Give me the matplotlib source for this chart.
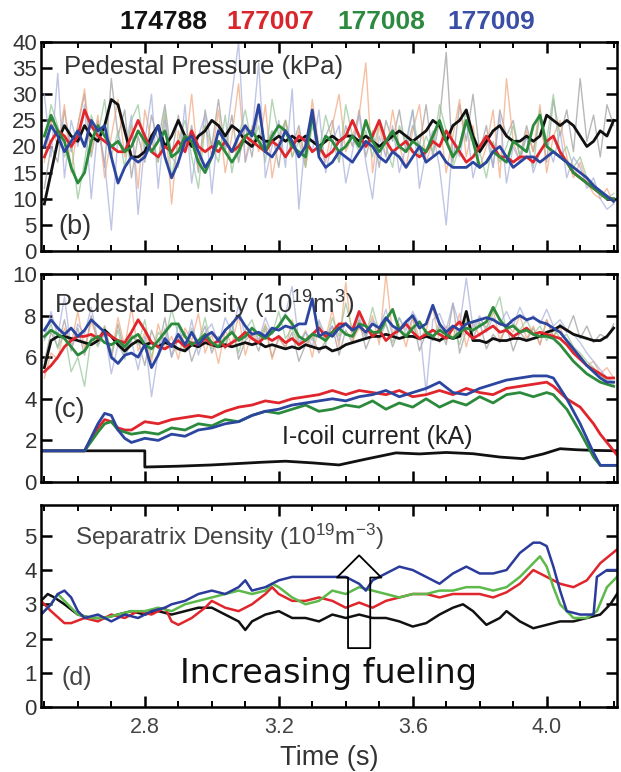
import numpy as np
import matplotlib
matplotlib.use('Agg')
import matplotlib.pyplot as plt
from matplotlib.ticker import MultipleLocator

plt.rcParams['font.family'] = ['Liberation Sans', 'DejaVu Sans']
plt.rcParams['mathtext.default'] = 'regular'

# ---- shots / colours ----
shots = ['174788', '177007', '177008', '177009']
cols = ['#111111', '#e0262c', '#2b8a3c', '#2c46a0']
raw_cols = ['#9a9a9a', '#f2a57c', '#93c493', '#a6addb']

# ---- (b) pedestal pressure, kPa, sampled every 0.02 s from 2.50 to 4.20 ----
pp_174788 = [9, 15, 21, 24, 22, 21, 24, 22, 21, 24,
             29, 28, 23, 18, 18, 19, 22, 24, 20, 22,
             25, 22, 20, 22, 23, 25, 24, 22, 24, 23,
             21, 20, 22, 21, 21, 22, 21, 22, 21, 22,
             21, 20, 21, 22, 21, 22, 22, 21, 22, 21,
             20, 21, 22, 23, 22, 21, 22, 23, 25, 24,
             21, 24, 25, 27, 22, 19, 21, 23, 24, 22,
             21, 21, 22, 21, 22, 26, 25, 24, 25, 24,
             22, 20, 21, 23, 22, 25]
pp_177007 = [18, 21, 23, 22, 20, 22, 27, 24, 22, 21,
             20, 19, 19, 22, 25, 22, 19, 18, 20, 19,
             21, 19, 23, 20, 19, 20, 19, 21, 19, 20,
             22, 21, 20, 19, 21, 20, 18, 20, 22, 21,
             19, 20, 18, 19, 21, 22, 25, 22, 20, 22,
             25, 21, 19, 20, 21, 19, 18, 19, 21, 20,
             23, 21, 19, 17, 18, 20, 22, 20, 18, 18,
             17, 18, 18, 17, 19, 21, 22, 19, 17, 15,
             14, 13, 12, 11, 10, 10]
pp_177008 = [22, 26, 23, 21, 16, 13, 15, 21, 24, 22,
             20, 21, 19, 20, 23, 21, 19, 21, 23, 18,
             19, 22, 21, 17, 15, 18, 21, 19, 17, 19,
             22, 23, 21, 19, 22, 24, 23, 20, 19, 18,
             26, 19, 22, 21, 19, 20, 22, 20, 25, 21,
             19, 21, 23, 20, 19, 21, 20, 19, 22, 25,
             21, 18, 20, 25, 21, 16, 17, 19, 18, 17,
             21, 20, 19, 24, 26, 20, 19, 18, 17, 15,
             14, 13, 12, 11, 10, 10]
pp_177009 = [20, 24, 22, 19, 21, 23, 20, 25, 23, 24,
             18, 13, 16, 18, 17, 18, 21, 24, 18, 14,
             17, 21, 22, 19, 16, 18, 23, 21, 19, 22,
             24, 22, 28, 19, 18, 20, 23, 21, 18, 20,
             27, 18, 16, 17, 19, 18, 17, 19, 21, 20,
             18, 17, 19, 18, 16, 18, 20, 17, 18, 19,
             17, 16, 16, 16, 17, 16, 17, 19, 20, 18,
             16, 17, 18, 18, 17, 18, 19, 18, 17, 16,
             15, 14, 12.5, 11.5, 10.5, 9.5]

pp_raw_174788 = [12, 20, 17, 27, 19, 24, 30, 18, 25, 16, 33, 22, 27, 14, 22, 17, 26, 21,
                 28, 18, 26, 19, 24, 15, 27, 20, 29, 19, 26, 17, 24, 18, 27, 20, 23, 16,
                 25, 20, 24, 17, 26, 18, 22, 25, 17, 24, 20, 27, 18, 23, 16, 25, 21, 27,
                 19, 24, 20, 28, 18, 25, 38, 17, 28, 21, 30, 19, 24, 16, 27, 22, 25, 18,
                 24, 19, 26, 17, 29, 22, 27, 19, 33, 21, 26, 18, 28, 24]
pp_raw_177007 = [17, 25, 20, 28, 15, 24, 31, 19, 26, 14, 22, 29, 18, 24, 12, 27, 21, 17,
                 26, 9, 23, 19, 30, 16, 24, 18, 27, 15, 22, 32, 17, 24, 19, 28, 14, 21,
                 25, 18, 23, 16, 29, 20, 17, 24, 30, 19, 22, 26, 36, 15, 24, 18, 27, 20,
                 16, 23, 28, 17, 21, 25, 15, 22, 29, 18, 24, 16, 20, 27, 14, 33, 21, 17,
                 23, 19, 28, 15, 22, 25, 18, 14, 17, 13, 11, 10, 12, 9]
pp_raw_177008 = [20, 28, 24, 18, 21, 10, 17, 26, 22, 29, 18, 23, 16, 25, 28, 19, 22, 17,
                 27, 14, 21, 25, 18, 12, 24, 20, 17, 26, 15, 22, 27, 20, 24, 17, 29, 22,
                 25, 18, 21, 16, 24, 19, 26, 21, 17, 28, 22, 19, 23, 18, 25, 20, 16, 24,
                 21, 27, 18, 22, 19, 28, 23, 16, 20, 27, 22, 19, 14, 21, 17, 20, 24, 18,
                 22, 16, 27, 21, 30, 18, 20, 16, 18, 14, 13, 11, 10, 11]
pp_raw_177009 = [30, 18, 34, 14, 25, 20, 28, 10, 24, 17, 4, 22, 19, 26, 7, 21, 30, 12,
                 25, 18, 16, 28, 13, 22, 26, 11, 24, 20, 30, 40, 17, 22, 36, 14, 20, 25,
                 16, 31, 8, 22, 19, 27, 15, 21, 24, 13, 19, 26, 17, 10, 22, 18, 24, 15,
                 20, 27, 12, 19, 23, 16, 5, 21, 18, 25, 14, 19, 22, 16, 26, 13, 20, 17,
                 22, 15, 19, 21, 17, 23, 14, 18, 16, 12, 14, 10, 8, 9]

# ---- (c) pedestal density, 1e19 m^-3, every 0.02 s ----
nd_174788 = [5.5, 6.8, 7.0, 7.0, 6.9, 6.8, 6.7, 6.6, 6.8, 7.3,
             7.0, 6.6, 6.3, 6.6, 6.8, 6.6, 6.7, 6.5, 6.7, 6.6,
             6.4, 6.3, 6.6, 6.5, 6.7, 6.6, 6.5, 6.6, 6.5, 6.6,
             6.7, 6.6, 6.7, 6.5, 6.6, 6.5, 6.4, 6.5, 6.4, 6.6,
             6.5, 6.4, 6.5, 6.3, 6.4, 6.6, 6.7, 6.8, 6.9, 7.0,
             7.0, 7.1, 7.0, 6.9, 7.0, 7.0, 6.9, 7.0, 6.9, 6.8,
             7.0, 6.9, 7.0, 8.2, 6.8, 6.8, 6.7, 6.9, 6.8, 6.8,
             6.9, 6.9, 6.8, 6.9, 7.0, 7.2, 7.3, 7.5, 7.3, 7.1,
             7.0, 6.9, 6.8, 6.8, 7.0, 7.4]
nd_177007 = [5.3, 5.6, 6.0, 6.5, 6.8, 7.0, 7.0, 7.1, 6.9, 7.2,
             7.0, 6.8, 6.7, 7.2, 7.8, 7.3, 6.7, 6.5, 6.4, 6.6,
             6.8, 6.5, 6.7, 6.6, 6.9, 6.6, 6.8, 6.5, 6.7, 6.9,
             7.2, 6.9, 6.7, 7.0, 6.8, 7.0, 6.7, 6.9, 6.6, 6.8,
             7.1, 7.4, 7.0, 7.2, 7.6, 7.6, 7.3, 8.2, 7.5, 7.0,
             7.3, 6.8, 7.1, 7.3, 7.6, 7.2, 6.9, 7.1, 7.3, 7.1,
             6.9, 7.4, 7.7, 7.2, 6.9, 7.1, 7.3, 7.5, 7.2, 7.3,
             7.0, 7.2, 7.4, 7.1, 7.2, 7.1, 7.0, 6.9, 6.6, 6.2,
             5.9, 5.6, 5.4, 5.2, 5.0, 5.0]
nd_177008 = [7.0, 7.3, 7.1, 6.9, 6.5, 6.1, 6.3, 6.8, 7.0, 6.7,
             6.6, 6.8, 6.5, 6.9, 7.1, 6.6, 6.4, 6.8, 7.2, 7.6,
             7.6, 7.0, 6.6, 6.8, 7.1, 6.7, 6.5, 6.9, 7.2, 6.8,
             7.0, 7.4, 7.1, 6.9, 7.2, 7.5, 8.0, 7.6, 7.0, 6.8,
             7.1, 7.0, 6.8, 7.2, 7.4, 7.1, 7.0, 7.6, 7.5, 7.2,
             7.2, 7.8, 8.3, 7.3, 7.0, 7.4, 7.7, 7.2, 7.0, 7.3,
             7.1, 6.9, 7.2, 7.4, 7.3, 7.5, 7.7, 8.4, 7.8, 7.4,
             7.5, 7.2, 7.3, 7.1, 7.0, 7.0, 6.9, 6.6, 6.2, 5.8,
             5.5, 5.2, 5.0, 4.8, 4.7, 4.6]
nd_177009 = [7.3, 7.8, 7.4, 7.1, 7.4, 7.0, 7.3, 7.8, 7.5, 7.2,
             6.0, 5.7, 6.1, 6.2, 6.0, 6.6, 5.5, 6.1, 6.9, 6.5,
             7.1, 6.6, 7.2, 6.6, 7.0, 7.2, 6.8, 7.3, 7.6, 8.0,
             7.5, 7.1, 7.2, 7.0, 7.4, 7.3, 7.5, 7.4, 7.6, 7.6,
             8.8, 7.0, 7.2, 7.0, 7.4, 7.6, 7.3, 7.5, 7.2, 7.6,
             7.4, 7.9, 7.5, 7.3, 7.7, 8.0, 7.4, 7.6, 8.5, 7.6,
             7.2, 7.5, 7.3, 7.6, 7.7, 7.8, 7.9, 7.8, 7.6, 7.5,
             7.8, 8.0, 7.8, 7.9, 7.7, 7.6, 7.4, 7.2, 6.8, 6.4,
             6.0, 5.6, 5.3, 5.0, 4.8, 4.8]

nd_raw_174788 = [5.8, 7.2, 6.5, 7.8, 6.3, 7.4, 6.1, 8.0, 6.6, 7.1, 5.9, 7.6, 6.2, 7.0, 6.8,
                 5.6, 7.3, 6.4, 7.9, 6.0, 6.9, 7.2, 5.8, 6.7, 7.5, 6.2, 7.0, 6.4, 7.7, 5.9,
                 6.8, 7.1, 6.3, 7.4, 6.0, 6.9, 6.5, 7.2, 5.8, 6.6, 7.0, 6.2, 6.8, 7.5, 6.1,
                 7.3, 6.7, 7.8, 6.4, 7.2, 6.9, 7.6, 6.5, 7.4, 7.0, 7.9, 6.3, 7.2, 6.8, 7.5,
                 6.6, 8.6, 6.2, 7.3, 6.9, 7.7, 6.4, 7.1, 6.7, 7.5, 6.3, 7.2, 6.8, 7.4, 6.6,
                 7.8, 7.0, 7.6, 7.2, 8.0, 6.9, 7.5, 6.7, 7.1, 6.9, 7.6]
nd_raw_177007 = [5.0, 6.2, 5.9, 7.4, 6.6, 8.2, 6.4, 7.7, 6.9, 7.5, 6.1, 7.9, 6.5, 8.4, 6.3,
                 7.2, 5.8, 7.6, 6.4, 7.0, 5.9, 7.4, 6.8, 8.1, 6.2, 7.1, 5.7, 7.3, 6.6, 8.0,
                 6.1, 7.2, 6.7, 7.6, 5.9, 7.0, 6.4, 7.8, 6.6, 7.3, 6.0, 7.5, 6.9, 8.3, 6.5,
                 9.6, 6.8, 7.4, 7.0, 8.0, 6.6, 10.0, 7.1, 7.6, 6.5, 7.9, 6.9, 7.3, 8.4, 6.7,
                 7.5, 6.9, 8.1, 6.5, 7.7, 7.0, 7.4, 8.3, 6.8, 7.6, 7.2, 8.0, 6.9, 7.5, 6.6,
                 7.8, 7.0, 7.4, 6.7, 6.4, 6.1, 5.6, 5.8, 5.2, 5.5, 5.0]
nd_raw_177008 = [6.8, 7.6, 6.4, 7.2, 5.3, 6.0, 4.6, 7.0, 6.5, 7.5, 6.2, 7.3, 5.9, 7.1, 6.6,
                 7.8, 6.0, 7.2, 6.8, 8.3, 7.1, 6.3, 7.4, 6.7, 7.9, 6.4, 7.0, 6.6, 7.6, 6.2,
                 7.3, 7.8, 6.8, 7.5, 7.1, 8.2, 6.9, 7.4, 6.5, 7.2, 6.8, 7.7, 6.6, 7.9, 7.0,
                 8.6, 7.3, 7.8, 7.0, 8.4, 7.2, 7.6, 6.7, 7.9, 7.1, 7.5, 6.8, 7.3, 6.9, 7.7,
                 7.0, 7.4, 6.6, 7.8, 7.2, 7.9, 7.4, 8.1, 8.9, 7.2, 7.6, 7.3, 7.8, 7.1, 7.5,
                 6.8, 7.4, 6.9, 7.1, 6.5, 6.2, 5.8, 5.5, 5.1, 4.9, 4.7]
nd_raw_177009 = [6.9, 8.2, 7.0, 8.9, 6.4, 7.6, 7.1, 8.4, 6.8, 7.3, 5.2, 6.6, 6.0, 6.8, 5.4,
                 7.0, 4.1, 6.2, 7.4, 6.0, 7.6, 6.3, 7.8, 6.1, 7.2, 7.6, 6.6, 7.9, 7.2, 8.5,
                 6.9, 7.4, 6.8, 7.9, 7.1, 7.6, 8.1, 9.4, 6.7, 7.2, 6.5, 7.8, 7.0, 7.5, 6.8,
                 7.7, 7.2, 8.0, 6.9, 7.8, 7.4, 8.3, 7.0, 7.9, 7.3, 8.2, 7.6, 4.3, 7.8, 8.1,
                 7.3, 8.6, 7.5, 9.8, 7.4, 8.0, 7.2, 7.9, 7.6, 8.2, 7.5, 8.4, 7.7, 8.0, 7.6,
                 8.3, 7.5, 7.8, 7.3, 7.1, 6.7, 6.2, 5.8, 5.4, 5.0, 4.8]

# ---- (c) I-coil current, kA ----
ic_t_174788 = [2.49, 2.80, 2.80, 2.90, 3.00, 3.07, 3.15, 3.22, 3.30, 3.38, 3.46, 3.55,
               3.62, 3.70, 3.78, 3.86, 3.93, 3.99, 4.04, 4.09, 4.14, 4.21]
ic_174788 = [1.5, 1.5, 0.72, 0.76, 0.82, 0.88, 0.95, 1.0, 0.92, 0.82, 1.1, 1.4,
             1.35, 1.42, 1.36, 1.2, 1.12, 1.35, 1.6, 1.55, 1.52, 1.5]
ic_t_1770xx = [2.49, 2.62, 2.66, 2.68, 2.70, 2.72, 2.74, 2.76, 2.80, 2.84, 2.88, 2.92,
               2.96, 3.00, 3.04, 3.08, 3.12, 3.16, 3.20, 3.24, 3.28, 3.32, 3.36, 3.40,
               3.44, 3.48, 3.52, 3.56, 3.60, 3.64, 3.68, 3.72, 3.76, 3.80, 3.84, 3.88,
               3.92, 3.96, 4.00, 4.02, 4.06, 4.10, 4.14, 4.16, 4.21]
ic_177007 = [1.5, 1.5, 2.6, 3.0, 2.9, 2.6, 2.5, 2.5, 2.9, 2.8, 3.0, 3.1,
             3.2, 3.1, 3.4, 3.6, 3.7, 3.9, 3.8, 4.0, 4.1, 4.2, 4.4, 4.2,
             4.4, 4.3, 4.2, 4.4, 4.1, 4.2, 4.4, 4.2, 4.5, 4.3, 4.2, 4.5,
             4.6, 4.7, 4.8, 4.6, 4.0, 3.6, 2.8, 2.3, 1.3]
ic_177008 = [1.5, 1.5, 2.4, 2.8, 2.9, 2.5, 2.4, 2.3, 2.4, 2.3, 2.6, 2.5,
             2.8, 2.7, 3.0, 2.9, 3.2, 3.4, 3.3, 3.5, 3.7, 3.4, 3.5, 3.7,
             3.6, 3.9, 3.5, 3.8, 3.6, 4.0, 3.6, 3.9, 3.7, 4.1, 3.8, 4.2,
             4.3, 4.1, 4.3, 4.2, 3.5, 2.4, 1.2, 0.8, 0.8]
ic_177009 = [1.5, 1.5, 2.8, 3.3, 3.2, 2.5, 2.1, 1.9, 2.1, 2.0, 2.3, 2.2,
             2.5, 2.6, 2.8, 2.9, 3.2, 3.4, 3.5, 3.7, 3.8, 3.9, 4.0, 3.9,
             4.1, 4.2, 4.4, 4.1, 4.3, 4.5, 4.8, 4.3, 4.2, 4.5, 4.7, 4.9,
             5.0, 5.1, 5.1, 5.0, 4.0, 2.8, 1.4, 0.8, 0.8]

# ---- (d) separatrix density, 1e19 m^-3 ----
sd_t_174788 = [2.49, 2.51, 2.53, 2.56, 2.60, 2.64, 2.68, 2.72, 2.76, 2.80, 2.84, 2.88,
               2.92, 2.96, 3.00, 3.04, 3.08, 3.10, 3.12, 3.16, 3.20, 3.24, 3.28, 3.32,
               3.36, 3.40, 3.44, 3.48, 3.52, 3.56, 3.60, 3.64, 3.68, 3.72, 3.75, 3.78,
               3.82, 3.86, 3.88, 3.92, 3.96, 4.00, 4.04, 4.08, 4.12, 4.16, 4.19, 4.21]
sd_174788 = [3.1, 3.3, 3.2, 3.0, 2.7, 2.6, 2.6, 2.7, 2.8, 2.7, 2.8, 2.7,
             2.8, 2.9, 2.9, 2.7, 2.5, 2.25, 2.5, 2.7, 2.8, 2.6, 2.6, 2.5,
             2.7, 2.6, 2.7, 2.6, 2.6, 2.5, 2.35, 2.45, 2.7, 2.9, 3.0, 2.8,
             2.4, 2.6, 2.8, 2.5, 2.3, 2.4, 2.5, 2.5, 2.6, 2.7, 3.0, 3.3]
sd_t_177007 = [2.49, 2.52, 2.56, 2.58, 2.62, 2.66, 2.70, 2.74, 2.78, 2.82, 2.86, 2.88,
               2.90, 2.94, 2.98, 3.00, 3.04, 3.08, 3.12, 3.16, 3.18, 3.20, 3.24, 3.28,
               3.32, 3.36, 3.40, 3.44, 3.48, 3.52, 3.56, 3.60, 3.64, 3.68, 3.72, 3.76,
               3.80, 3.84, 3.88, 3.92, 3.96, 4.00, 4.04, 4.08, 4.12, 4.16, 4.21]
sd_177007 = [3.1, 2.8, 2.45, 2.45, 2.6, 2.5, 2.7, 2.6, 2.8, 2.7, 2.9, 2.5,
             2.4, 2.6, 2.9, 3.1, 2.9, 2.8, 3.0, 3.3, 3.5, 3.3, 3.1, 3.1,
             3.2, 3.1, 2.9, 3.05, 2.9, 3.1, 3.2, 3.3, 3.3, 3.2, 3.3, 3.3,
             3.3, 3.2, 3.35, 3.6, 4.0, 3.8, 3.6, 3.5, 3.7, 4.2, 4.6]
sd_t_177008 = [2.49, 2.52, 2.54, 2.56, 2.60, 2.64, 2.68, 2.72, 2.76, 2.80, 2.84, 2.88,
               2.92, 2.96, 3.00, 3.04, 3.08, 3.12, 3.16, 3.18, 3.20, 3.24, 3.28, 3.32,
               3.36, 3.40, 3.44, 3.48, 3.52, 3.56, 3.60, 3.64, 3.68, 3.72, 3.76, 3.80,
               3.84, 3.88, 3.92, 3.96, 3.98, 4.00, 4.02, 4.04, 4.08, 4.12, 4.15, 4.18, 4.21]
sd_177008 = [2.7, 3.0, 3.3, 3.1, 2.7, 2.6, 2.6, 2.7, 2.8, 2.8, 2.9, 2.8,
             3.0, 3.1, 3.2, 3.3, 3.4, 3.3, 3.4, 3.6, 3.5, 3.2, 3.0, 3.1,
             3.4, 3.3, 3.5, 3.4, 3.3, 3.2, 3.3, 3.3, 3.4, 3.4, 3.5, 3.5,
             3.4, 3.5, 3.8, 4.2, 4.4, 4.1, 3.5, 3.0, 2.6, 2.6, 2.8, 3.5, 3.8]
sd_t_177009 = [2.49, 2.52, 2.54, 2.56, 2.58, 2.60, 2.62, 2.66, 2.70, 2.74, 2.78, 2.82,
               2.86, 2.88, 2.92, 2.96, 3.00, 3.04, 3.08, 3.10, 3.12, 3.16, 3.20, 3.24,
               3.28, 3.32, 3.36, 3.40, 3.44, 3.46, 3.48, 3.52, 3.56, 3.60, 3.64, 3.68,
               3.72, 3.76, 3.80, 3.84, 3.88, 3.92, 3.96, 3.98, 4.00, 4.02, 4.04, 4.06,
               4.10, 4.14, 4.15, 4.18, 4.21]
sd_177009 = [2.7, 3.0, 3.3, 3.4, 3.2, 2.8, 2.6, 2.7, 2.5, 2.7, 2.6, 2.8,
             2.9, 3.0, 3.1, 3.3, 3.4, 3.3, 3.5, 3.7, 3.4, 3.5, 3.7, 3.8,
             3.8, 3.8, 3.8, 3.8, 3.6, 3.4, 3.7, 3.9, 4.1, 4.0, 3.8, 3.6,
             3.9, 4.1, 3.9, 3.9, 4.0, 4.5, 4.8, 4.8, 4.7, 4.1, 3.4, 2.8,
             2.7, 2.7, 3.8, 4.0, 4.0]

tgrid = lambda v: np.linspace(2.50, 4.20, len(v))

fig = plt.figure(figsize=(6.21, 7.72), dpi=100)
L, W = 41 / 621, 576 / 621
ax_b = fig.add_axes([L, 1 - 251 / 772, W, 209 / 772])
ax_c = fig.add_axes([L, 1 - 482 / 772, W, 208 / 772])
ax_d = fig.add_axes([L, 1 - 707 / 772, W, 202 / 772])

# (b)
for raw, c in zip([pp_raw_174788, pp_raw_177007, pp_raw_177008, pp_raw_177009], raw_cols):
    ax_b.plot(tgrid(raw), raw, color=c, lw=1, alpha=0.7)
for y, c in zip([pp_174788, pp_177007, pp_177008, pp_177009], cols):
    ax_b.plot(tgrid(y), y, color=c, lw=2.0)
ax_b.set_ylim(0, 40)
ax_b.yaxis.set_major_locator(MultipleLocator(5))
ax_b.text(0.04, 0.88, 'Pedestal Pressure (kPa)', transform=ax_b.transAxes,
          fontsize=18.5, color='#333333', va='center')
ax_b.text(0.03, 0.115, '(b)', transform=ax_b.transAxes, fontsize=19.5,
          color='#333333', va='center')

# (c)
for raw, c in zip([nd_raw_174788, nd_raw_177007, nd_raw_177008, nd_raw_177009], raw_cols):
    ax_c.plot(tgrid(raw), raw, color=c, lw=1, alpha=0.7)
for y, c in zip([nd_174788, nd_177007, nd_177008, nd_177009], cols):
    ax_c.plot(tgrid(y), y, color=c, lw=2.0)
ax_c.plot(ic_t_174788, ic_174788, color=cols[0], lw=2.0)
for y, c in zip([ic_177007, ic_177008, ic_177009], cols[1:]):
    ax_c.plot(ic_t_1770xx, y, color=c, lw=2.0)
ax_c.set_ylim(0, 10)
ax_c.yaxis.set_major_locator(MultipleLocator(2))
ax_c.text(0.022, 0.85, r'Pedestal Density (10$^{19}$m$^{3}$)', transform=ax_c.transAxes,
          fontsize=18.5, color='#333333', va='center')
ax_c.text(0.418, 0.216, 'I-coil current (kA)', transform=ax_c.transAxes,
          fontsize=18, color='#222222', va='center')
ax_c.text(0.022, 0.346, '(c)', transform=ax_c.transAxes, fontsize=19.5,
          color='#333333', va='center')

# (d)
for t, y, c in zip([sd_t_174788, sd_t_177007, sd_t_177008, sd_t_177009],
                   [sd_174788, sd_177007, sd_177008, sd_177009],
                   ['#111111', '#e0262c', '#5cb94a', '#2b3b9c']):
    ax_d.plot(t, y, color=c, lw=1.8)
ax_d.set_ylim(0, 5.9)
ax_d.yaxis.set_major_locator(MultipleLocator(1))
ax_d.text(0.059, 0.84, r'Separatrix Density (10$^{19}$m$^{-3}$)', transform=ax_d.transAxes,
          fontsize=17.5, color='#444444', va='center')
ax_d.text(0.035, 0.144, '(d)', transform=ax_d.transAxes, fontsize=18,
          color='#444444', va='center')
ax_d.text(0.241, 0.168, 'Increasing fueling', transform=ax_d.transAxes,
          fontsize=24, color='#111111', va='center', family=['DejaVu Sans'])
ax_d.annotate('', xy=(3.44, 4.43), xytext=(3.44, 1.72),
              arrowprops=dict(arrowstyle='simple,head_length=1.6,head_width=3.2,tail_width=1.6',
                              mutation_scale=10, fc='none', ec='black', lw=1.3,
                              shrinkA=0, shrinkB=0), zorder=10)
ax_d.set_xlabel('Time (s)', fontsize=19.5, color='#333333', labelpad=5)

for ax in (ax_b, ax_c, ax_d):
    ax.set_xlim(2.49, 4.21)
    ax.xaxis.set_major_locator(MultipleLocator(0.4))
    ax.xaxis.set_minor_locator(MultipleLocator(0.1))
    ax.tick_params(which='major', direction='in', length=8, width=1.8,
                   top=True, right=True, labelsize=16, labelcolor='#333333', pad=3)
    ax.tick_params(which='minor', direction='in', length=4, width=1.4, top=True)
    for s in ax.spines.values():
        s.set_linewidth(1.8)
for ax in (ax_b, ax_c):
    ax.tick_params(labelbottom=False)
ax_d.set_xticks([2.8, 3.2, 3.6, 4.0])
ax_d.set_xticklabels(['2.8', '3.2', '3.6', '4.0'])
ax_d.tick_params(axis='x', labelsize=15.5, labelcolor='#444444', pad=7)

# shot header
for s, c, xc in zip(shots, ['#111111', '#d8262c', '#2b8a40', '#3a4ea6'],
                    [163, 270, 381, 491]):
    fig.text(xc / 621, 0.971, s, color=c, fontsize=19, fontweight='bold',
             ha='center', va='center')

fig.savefig('out.png', dpi=100)
